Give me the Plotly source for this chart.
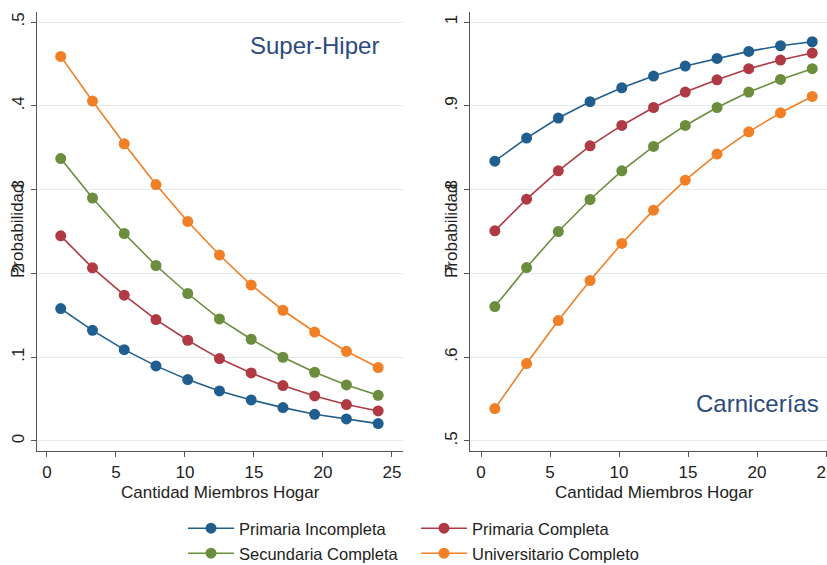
import plotly.graph_objects as go

x_members = [1, 3.3, 5.6, 7.9, 10.2, 12.5, 14.8, 17.1, 19.4, 21.7, 24]

series_names = ["Primaria Incompleta", "Primaria Completa", "Secundaria Completa", "Universitario Completo"]
colors = ["#1F5E8E", "#B03A44", "#6A8D3E", "#F07F26"]

super_primaria_incompleta = [0.158, 0.132, 0.109, 0.0896, 0.0732, 0.0597, 0.049, 0.0398, 0.0318, 0.0263, 0.0207]
super_primaria_completa = [0.2448, 0.2066, 0.174, 0.1449, 0.1202, 0.0983, 0.0812, 0.0661, 0.0537, 0.0434, 0.0358]
super_secundaria_completa = [0.337, 0.290, 0.2476, 0.2094, 0.176, 0.1457, 0.1214, 0.0999, 0.082, 0.0669, 0.0545]
super_universitario_completo = [0.459, 0.4057, 0.3547, 0.306, 0.262, 0.222, 0.186, 0.156, 0.130, 0.107, 0.0876]

carn_primaria_incompleta = [0.834, 0.8615, 0.8854, 0.9049, 0.9216, 0.9355, 0.9475, 0.9566, 0.965, 0.9717, 0.9765]
carn_primaria_completa = [0.7508, 0.7886, 0.8224, 0.8523, 0.8766, 0.898, 0.9164, 0.9311, 0.9443, 0.9546, 0.963]
carn_secundaria_completa = [0.6604, 0.707, 0.75, 0.7882, 0.8224, 0.8515, 0.8766, 0.898, 0.9164, 0.9315, 0.9443]
carn_universitario_completo = [0.5386, 0.5924, 0.6437, 0.6915, 0.7357, 0.7755, 0.8113, 0.8424, 0.869, 0.8917, 0.9112]

left_yticks = [0, 0.1, 0.2, 0.3, 0.4, 0.5]
left_ylabels = ["0", ".1", ".2", ".3", ".4", ".5"]
right_yticks = [0.5, 0.6, 0.7, 0.8, 0.9, 1.0]
right_ylabels = [".5", ".6", ".7", ".8", ".9", "1"]
xticks = [0, 5, 10, 15, 20, 25]

W, H = 827, 565
FONT = "Liberation Sans, Arial, sans-serif"
fig = go.Figure()

super_series = [super_primaria_incompleta, super_primaria_completa, super_secundaria_completa, super_universitario_completo]
carn_series = [carn_primaria_incompleta, carn_primaria_completa, carn_secundaria_completa, carn_universitario_completo]

for i, (name, col) in enumerate(zip(series_names, colors)):
    leg = "legend" if i < 2 else "legend2"
    fig.add_trace(go.Scatter(x=x_members, y=super_series[i], mode="lines+markers", name=name,
                             line=dict(color=col, width=1.6), marker=dict(color=col, size=11),
                             xaxis="x", yaxis="y", legend=leg, showlegend=True))
for i, (name, col) in enumerate(zip(series_names, colors)):
    fig.add_trace(go.Scatter(x=x_members, y=carn_series[i], mode="lines+markers", name=name,
                             line=dict(color=col, width=1.6), marker=dict(color=col, size=11),
                             xaxis="x2", yaxis="y2", showlegend=False))

ydom = [1 - 451 / H, 1 - 12 / H]
axis_common = dict(showline=True, linecolor="#555555", linewidth=1.2, ticks="outside",
                   ticklen=5, tickcolor="#555555", automargin=False, ticklabeloverflow="allow",
                   tickfont=dict(size=17, color="#222222", family=FONT), zeroline=False)

fig.update_layout(
    width=W, height=H, margin=dict(l=0, r=0, t=0, b=0, autoexpand=False),
    paper_bgcolor="white", plot_bgcolor="white",
    font=dict(family=FONT, color="#222222"),
    xaxis=dict(domain=[37 / W, 403 / W], range=[-0.72, 25.8], tickvals=xticks, showgrid=False,
               anchor="y", **axis_common),
    yaxis=dict(domain=ydom, range=[-0.012, 0.512], tickvals=left_yticks, ticktext=left_ylabels,
               tickangle=-90, showgrid=True, gridcolor="#E3EBEE", gridwidth=1, anchor="x",
               **axis_common),
    xaxis2=dict(domain=[470 / W, 1.0], range=[-0.8, 25.07], tickvals=xticks, showgrid=False,
                anchor="y2", **axis_common),
    yaxis2=dict(domain=ydom, range=[0.488, 1.012], tickvals=right_yticks, ticktext=right_ylabels,
                tickangle=-90, showgrid=True, gridcolor="#E3EBEE", gridwidth=1, anchor="x2",
                **axis_common),
    legend=dict(orientation="h", x=183 / W, y=1 - 511 / H, xanchor="left", yanchor="top",
                entrywidth=172, entrywidthmode="pixels", itemwidth=46,
                font=dict(size=16.5, color="#222222", family=FONT), bgcolor="rgba(0,0,0,0)"),
    legend2=dict(orientation="h", x=183 / W, y=1 - 536 / H, xanchor="left", yanchor="top",
                 entrywidth=172, entrywidthmode="pixels", itemwidth=46,
                 font=dict(size=16.5, color="#222222", family=FONT), bgcolor="rgba(0,0,0,0)"),
)

ann = []
ann.append(dict(text="Super-Hiper", x=381 / W, y=1 - 46 / H, xref="paper", yref="paper",
                xanchor="right", yanchor="middle", showarrow=False,
                font=dict(size=24, color="#2D4A7E", family=FONT)))
ann.append(dict(text="Carnicerías", x=821 / W, y=1 - 403 / H, xref="paper", yref="paper",
                xanchor="right", yanchor="middle", showarrow=False,
                font=dict(size=24, color="#2D4A7E", family=FONT)))
for xc in [220, 654]:
    ann.append(dict(text="Cantidad Miembros Hogar", x=xc / W, y=1 - 492 / H, xref="paper", yref="paper",
                    xanchor="center", yanchor="middle", showarrow=False,
                    font=dict(size=17, color="#222222", family=FONT)))
for xc in [18, 452]:
    ann.append(dict(text="Probabilidad", x=xc / W, y=1 - 231 / H, xref="paper", yref="paper",
                    xanchor="center", yanchor="middle", showarrow=False, textangle=-90,
                    font=dict(size=17, color="#222222", family=FONT)))
fig.update_layout(annotations=ann)

fig.write_html("out.html", config={"displayModeBar": False, "staticPlot": True},
               post_script="document.body.style.margin='0';document.body.style.overflow='hidden';")
